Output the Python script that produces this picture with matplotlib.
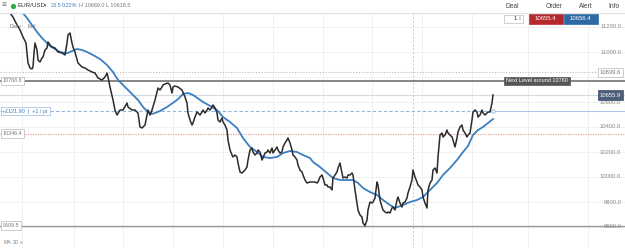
import matplotlib
matplotlib.use("Agg")
import matplotlib.pyplot as plt
from matplotlib.transforms import blended_transform_factory
from matplotlib.patches import Rectangle

plt.rcParams['font.family'] = ['Liberation Sans', 'DejaVu Sans']

# ---------------- data ----------------
price_days = [8, 10, 13, 16, 20, 23, 26, 27, 28, 30, 32, 33, 34, 35, 37, 38, 40, 42, 43, 45, 47, 48, 50, 52, 55, 58,
              62, 65, 67, 68, 70, 72, 73, 75, 78, 82, 85, 88, 92, 95, 98, 102, 105, 107, 108, 110, 113, 115, 117, 120,
              123, 127, 128, 132, 135, 138, 140, 142, 145, 147, 148, 150, 152, 155, 157, 158, 160, 162, 163, 165, 168,
              170, 172, 173, 175, 178, 182, 185, 187, 188, 190, 192, 193, 195, 197, 198, 200, 202, 203, 205, 207, 208,
              210, 212, 213, 215, 217, 218, 220, 222, 223, 225, 227, 228, 230, 232, 233, 235, 237, 238, 240, 242, 243,
              245, 247, 248, 250, 252, 253, 255, 257, 258, 260, 262, 263, 265, 267, 268, 270, 272, 273, 275, 277, 278,
              280, 282, 283, 285, 287, 288, 290, 292, 293, 295, 297, 298, 300, 302, 303, 305, 307, 310, 312, 315, 317,
              318, 320, 322, 323, 325, 327, 328, 330, 332, 333, 335, 337, 338, 340, 342, 343, 345, 347, 348, 350, 352,
              353, 355, 357, 358, 360, 362, 363, 365, 367, 368, 370, 372, 373, 375, 377, 378, 380, 382, 383, 385, 387,
              388, 390, 392, 393, 395, 397, 398, 400, 402, 403, 405, 407, 408, 410, 412, 413, 415, 417, 418, 420, 422,
              423, 425, 427, 428, 430, 432, 433, 435, 437, 438, 440, 442, 443, 445, 447, 448, 450, 452, 453, 455, 457,
              458, 460, 462, 463, 465, 467, 468, 470, 472, 473, 475, 477, 478, 480, 482, 483, 485, 487, 488, 490, 492,
              493]
price_close = [11336, 11312, 11280, 11232, 11176, 11120, 11072, 10992, 10912, 10872, 10864, 10880, 10992, 11072, 11016,
               10936, 10920, 10952, 10960, 11016, 11032, 11080, 11056, 11040, 11032, 11000, 10992, 10976, 11072, 11136,
               11152, 11072, 11040, 11000, 10912, 10880, 10872, 10856, 10840, 10832, 10792, 10776, 10800, 10832, 10800,
               10720, 10616, 10536, 10496, 10536, 10536, 10592, 10560, 10536, 10536, 10512, 10400, 10392, 10416, 10496,
               10536, 10496, 10536, 10616, 10680, 10712, 10696, 10720, 10736, 10744, 10752, 10736, 10672, 10720, 10728,
               10720, 10696, 10640, 10592, 10512, 10456, 10416, 10432, 10480, 10520, 10512, 10496, 10520, 10536, 10512,
               10536, 10552, 10536, 10560, 10576, 10552, 10512, 10456, 10440, 10472, 10440, 10416, 10376, 10296, 10216,
               10176, 10160, 10176, 10160, 10112, 10040, 10032, 10040, 10056, 10080, 10136, 10216, 10232, 10200, 10176,
               10192, 10216, 10200, 10136, 10152, 10192, 10200, 10216, 10192, 10232, 10192, 10216, 10240, 10216, 10192,
               10200, 10240, 10272, 10296, 10312, 10272, 10216, 10176, 10160, 10136, 10096, 10056, 10040, 10016, 9976,
               9952, 9960, 9960, 9960, 9952, 9960, 10000, 10016, 9992, 9936, 9936, 9920, 9920, 9896, 9992, 10016, 10040,
               10072, 10112, 10032, 9992, 10000, 9992, 10016, 10016, 10032, 10016, 9896, 9792, 9736, 9696, 9680, 9632,
               9610, 9656, 9736, 9800, 9792, 9800, 9832, 9960, 9936, 9816, 9760, 9736, 9720, 9712, 9720, 9712, 9752,
               9760, 9736, 9816, 9840, 9792, 9760, 9792, 9800, 9832, 9872, 9920, 9976, 10056, 10000, 9960, 9936, 9920,
               9896, 9840, 9792, 9752, 9896, 9952, 9976, 10056, 10072, 10032, 10160, 10336, 10352, 10320, 10336, 10376,
               10352, 10336, 10320, 10296, 10240, 10312, 10360, 10400, 10416, 10376, 10352, 10320, 10336, 10352, 10456,
               10520, 10536, 10520, 10480, 10496, 10536, 10512, 10496, 10512, 10520, 10520, 10592, 10656]

ma_days = [20, 22, 27, 32, 37, 42, 47, 50, 55, 60, 65, 68, 72, 77, 82, 87, 93, 100, 107, 113, 118, 123, 128, 133, 138,
           143, 148, 152, 155, 160, 167, 177, 183, 188, 193, 203, 212, 217, 223, 230, 237, 243, 250, 257, 263, 270, 277,
           283, 290, 297, 303, 310, 313, 320, 327, 333, 340, 347, 353, 358, 363, 370, 377, 383, 390, 395, 403, 410, 417,
           423, 430, 437, 443, 450, 457, 463, 468, 473, 478, 483, 488, 493]
ma20 = [11352, 11320, 11272, 11216, 11160, 11112, 11072, 11048, 11024, 11000, 10992, 10992, 11008, 11024, 11016, 11000,
        10976, 10944, 10896, 10840, 10776, 10736, 10696, 10656, 10616, 10560, 10520, 10504, 10512, 10528, 10560, 10616,
        10664, 10672, 10656, 10600, 10560, 10536, 10480, 10440, 10392, 10312, 10240, 10200, 10160, 10152, 10160, 10192,
        10208, 10200, 10176, 10152, 10120, 10080, 10032, 9992, 9976, 9976, 9976, 9952, 9912, 9880, 9856, 9816, 9776,
        9752, 9776, 9800, 9816, 9840, 9896, 9952, 10016, 10072, 10136, 10200, 10248, 10336, 10376, 10400, 10432, 10464]

price_ticks = [11200, 11000, 10800, 10600, 10400, 10200, 10000, 9800, 9600]
date_grid = [22, 74, 123, 173, 223, 273, 323, 372, 422, 472, 528, 588]
today_day = 413

level_next = 10768.8
level_upper = 10839.6
level_current = 10655.9
level_position = 10528
level_red = 10346.4
level_low = 9609.5
bid_text, ask_text = "10655.4", "10656.4"

# ---------------- figure ----------------
W, H = 625, 248
fig = plt.figure(figsize=(W / 100, H / 100), dpi=100)
ax = fig.add_axes([0, 0, 1, (H - 13) / H])
ax.set_xlim(0, W)
ax.set_ylim(9432, 11312)
for s in ax.spines.values():
    s.set_visible(False)
ax.set_xticks(date_grid)
ax.set_yticks(price_ticks)
ax.tick_params(length=0, labelbottom=False, labelleft=False)
ax.grid(True, color='#efefef', lw=0.6)
ax.set_axisbelow(True)

tr = blended_transform_factory(ax.transAxes, ax.transData)

ax.axvline(today_day, color='#c8c8c8', lw=0.7, ls=(0, (2, 2)))
ax.axhline(level_upper, color='#bdbdbd', lw=0.8, ls=(0, (1, 1.5)))
ax.axhline(level_next, color='#666666', lw=1.1)
ax.axhline(level_current, color='#d3dae4', lw=0.8)
ax.axhline(level_red, color='#e8a898', lw=0.9, ls=(0, (1, 1)))
ax.axhline(level_low, color='#9a9a9a', lw=1.0)
ax.plot([0, price_days[-1]], [level_position] * 2, color='#8fb6de', lw=0.8, ls=(0, (3, 2)))
ax.plot([price_days[-1], W], [level_position] * 2, color='#a9c7e6', lw=0.8)
ax.plot([price_days[-1]], [level_position], marker='o', ms=2.5, mfc='white', mec='#8fb6de', mew=0.6)

ax.plot(ma_days, ma20, color='#3b7ec2', lw=1.3, zorder=4)
ax.plot(price_days, price_close, color='#2b2b2b', lw=1.1, zorder=5)

# right price scale labels
for p in price_ticks:
    ax.text(0.994, p, f"{p:.1f}", transform=tr, ha='right', va='center', fontsize=4.2, color='#8a8a8a', zorder=6)

box_white = dict(boxstyle='square,pad=0.35', fc='white', ec='#c4c4c4', lw=0.6)
# left level labels
for lv in (level_next, level_red, level_low):
    ax.text(0.004, lv, f"{lv:.1f}", transform=tr, ha='left', va='center', fontsize=3.9, color='#7a7a7a',
            bbox=box_white, zorder=7)
ax.text(0.004, level_position, "+£121.90  |  +1 / pt", transform=tr, ha='left', va='center', fontsize=3.9,
        color='#3b7ec2', bbox=dict(boxstyle='square,pad=0.35', fc='white', ec='#a9c7e6', lw=0.6), zorder=7)

# right boxes
ax.text(0.994, level_upper, f"{level_upper:.1f}", transform=tr, ha='right', va='center', fontsize=4.2,
        color='#777777', bbox=dict(boxstyle='square,pad=0.35', fc='white', ec='#c4c4c4', lw=0.6), zorder=8)
ax.text(0.994, level_current, f"{level_current:.1f}", transform=tr, ha='right', va='center', fontsize=4.2,
        color='white', bbox=dict(boxstyle='square,pad=0.35', fc='#4c5e78', ec='#4c5e78', lw=0.6), zorder=8)
ax.text(537, level_next, "Next Level around 10760", ha='center', va='center', fontsize=4.0, color='white',
        bbox=dict(boxstyle='square,pad=0.3', fc='#555555', ec='#555555', lw=0.5), zorder=8)

# ---------------- UI overlay (pixel coords) ----------------
ui = fig.add_axes([0, 0, 1, 1], zorder=10)
ui.set_xlim(0, W)
ui.set_ylim(H, 0)
ui.axis('off')
ui.patch.set_alpha(0)

ui.plot([0, W], [12.5, 12.5], color='#e2e2e2', lw=0.8)
ui.text(2, 5.5, "≡", fontsize=6, color='#666666', va='center', ha='left')
ui.plot([13], [5.5], marker='o', ms=2.8, color='#2bb24c')
ui.text(17, 5.5, "EUR/USD", fontsize=4.5, color='#333333', va='center', ha='left')
ui.text(43.5, 5.8, "▾", fontsize=3.3, color='#555555', va='center', ha='left')
ui.text(51, 5.5, "23.5", fontsize=4.0, color='#3b7ec2', va='center', ha='left')
ui.text(62, 5.5, "0.22%", fontsize=4.0, color='#3b7ec2', va='center', ha='left')
ui.text(79, 5.5, "H 10669.0 L 10618.5", fontsize=4.0, color='#777777', va='center', ha='left')

for label, cx in (("Deal", 512), ("Order", 554), ("Alert", 586), ("Info", 614)):
    ui.text(cx, 6, label, fontsize=4.8, color='#444444', va='center', ha='center')

ui.add_patch(Rectangle((504, 14.5), 19, 8.5, fc='white', ec='#c8c8c8', lw=0.6))
ui.text(517, 18.8, "1", fontsize=4.3, color='#333333', va='center', ha='right')
ui.text(520.5, 18.8, "⇕", fontsize=3.5, color='#999999', va='center', ha='center')
ui.add_patch(Rectangle((529, 14), 33.5, 9.5, fc='#b5292e', ec='#b5292e', lw=0.5))
ui.text(545.7, 18.8, bid_text, fontsize=4.3, color='white', va='center', ha='center')
ui.add_patch(Rectangle((564, 14), 33.5, 9.5, fc='#2d69a5', ec='#2d69a5', lw=0.5))
ui.text(580.7, 18.8, ask_text, fontsize=4.3, color='white', va='center', ha='center')

ui.text(10, 26.5, "Daily", fontsize=3.8, color='#777777', va='center', ha='left')
ui.text(28, 26.5, "Mid", fontsize=3.8, color='#777777', va='center', ha='left')

ui.text(4, 243, "MA", fontsize=3.8, color='#888888', va='center', ha='left')
ui.text(13, 243, "20", fontsize=3.8, color='#3b7ec2', va='center', ha='left')
ui.text(20, 243, "x", fontsize=3.8, color='#888888', va='center', ha='left')

fig.savefig("out.png", dpi=100)
